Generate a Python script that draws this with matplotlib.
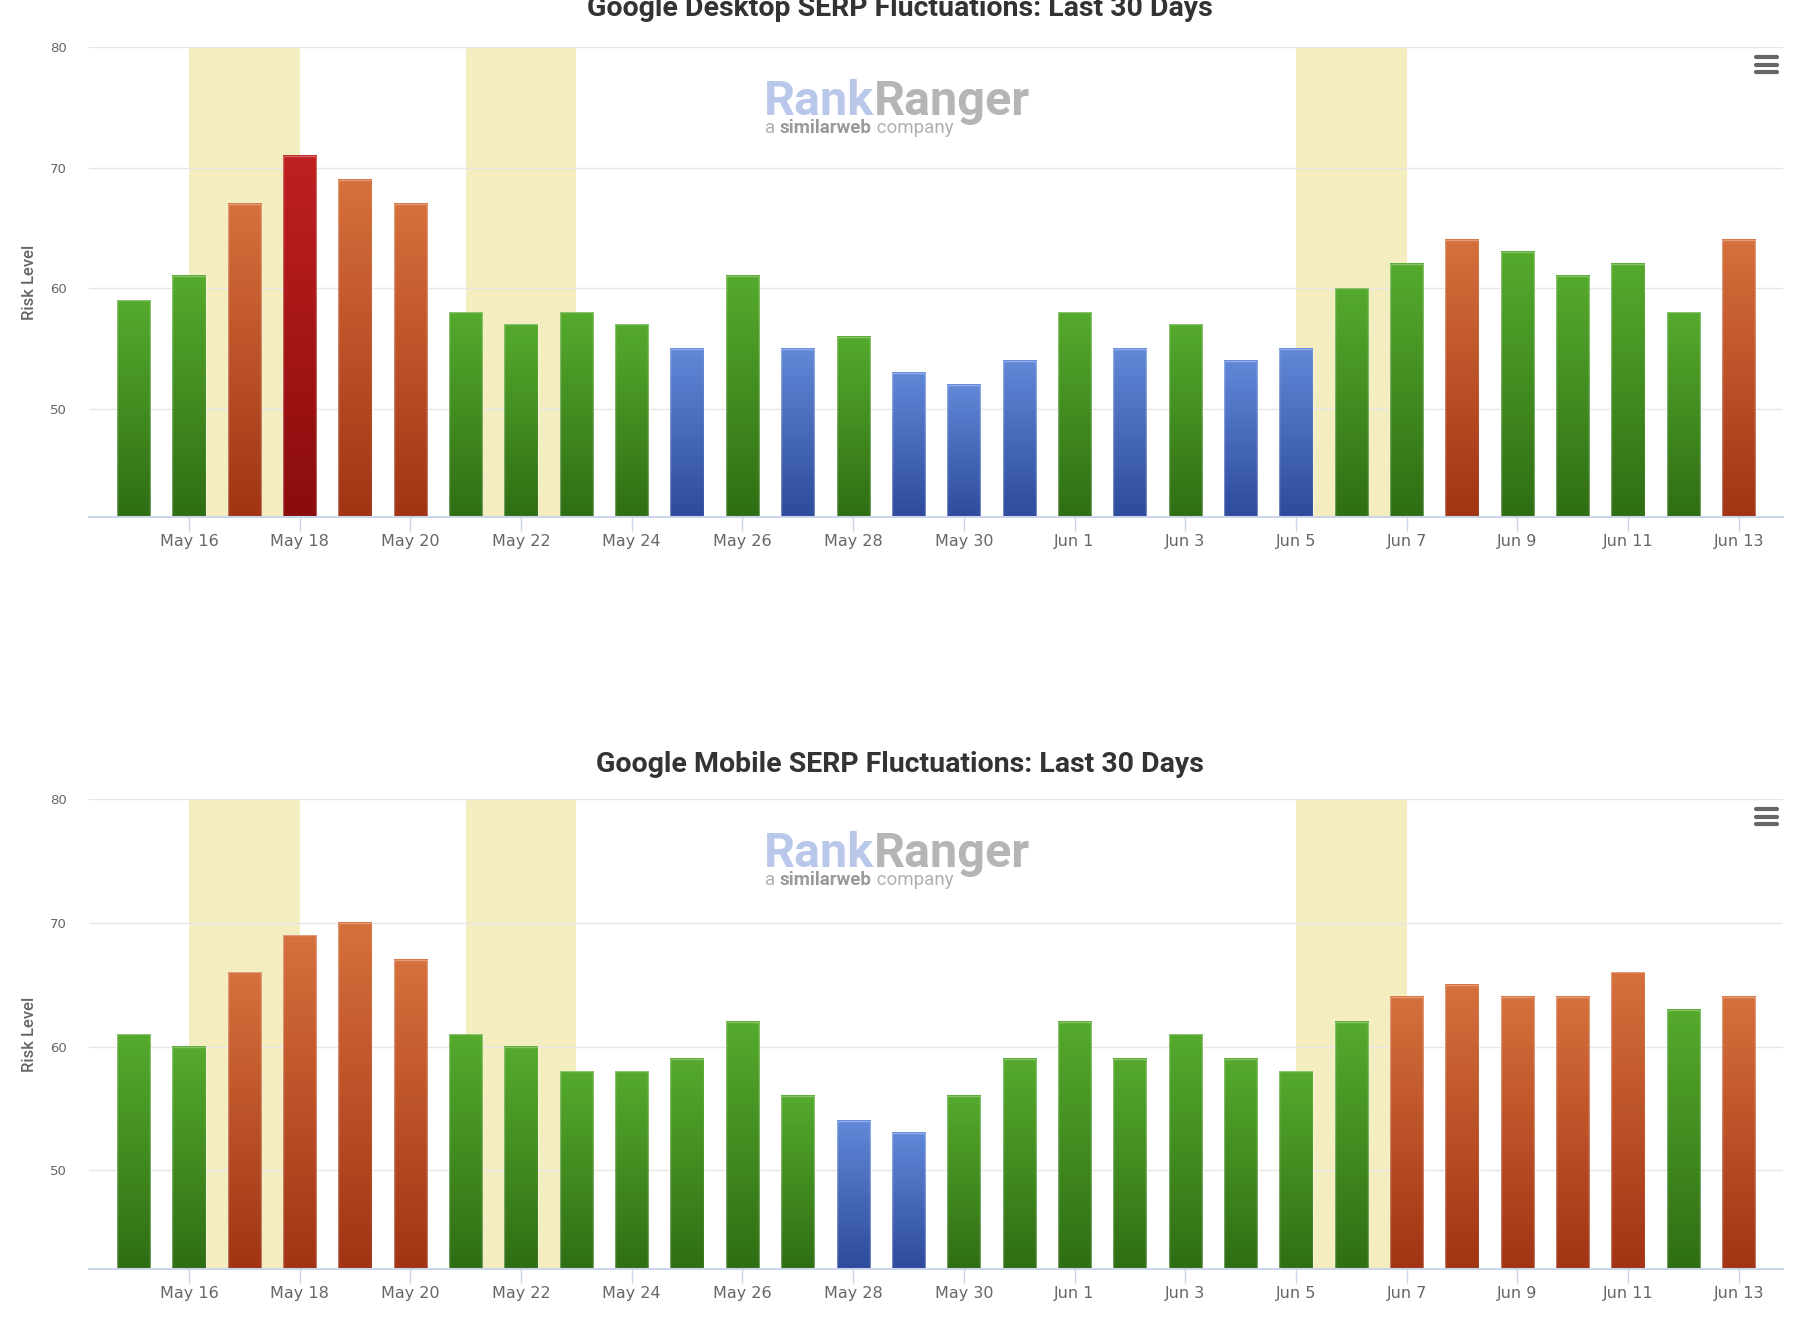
import matplotlib
matplotlib.use('Agg')
import matplotlib.pyplot as plt
import numpy as np
from matplotlib.colors import to_rgb
from matplotlib.lines import Line2D

W, H = 1803, 1343

days = ['May 15', 'May 16', 'May 17', 'May 18', 'May 19', 'May 20', 'May 21',
        'May 22', 'May 23', 'May 24', 'May 25', 'May 26', 'May 27', 'May 28',
        'May 29', 'May 30', 'May 31', 'Jun 1', 'Jun 2', 'Jun 3', 'Jun 4',
        'Jun 5', 'Jun 6', 'Jun 7', 'Jun 8', 'Jun 9', 'Jun 10', 'Jun 11',
        'Jun 12', 'Jun 13']
desktop = [59, 61, 67, 71, 69, 67, 58, 57, 58, 57, 55, 61, 55, 56, 53,
           52, 54, 58, 55, 57, 54, 55, 60, 62, 64, 63, 61, 62, 58, 64]
mobile = [61, 60, 66, 69, 70, 67, 61, 60, 58, 58, 59, 62, 56, 54, 53,
          56, 59, 62, 59, 61, 59, 58, 62, 64, 65, 64, 64, 66, 63, 64]
highlights = [('May 16', 'May 18'), ('May 21', 'May 23'), ('Jun 5', 'Jun 7')]
titles = ['Google Desktop SERP Fluctuations: Last 30 Days',
          'Google Mobile SERP Fluctuations: Last 30 Days']
y_floor = [41, 42]

# top / bottom colour of the bar gradients
grad = {'blue': ('#6288d8', '#2d4a9c'),
        'green': ('#55aa2d', '#2f6e14'),
        'orange': ('#d6703c', '#a03414'),
        'red': ('#c02020', '#8a0c0c')}


def level(v):
    if v <= 55:
        return 'blue'
    if v <= 63:
        return 'green'
    if v <= 70:
        return 'orange'
    return 'red'


def gradient(top, bottom, n=128):
    t = np.linspace(0, 1, n)[:, None]
    a, b = np.array(to_rgb(bottom)), np.array(to_rgb(top))
    return (a + (b - a) * t)[:, None, :]


fig = plt.figure(figsize=(W / 100, H / 100), dpi=100)
fig.patch.set_facecolor('white')

left, right = 89.3, 1783.0
x = np.arange(len(days))
title_base = [16.5, 771.7]

for k, (title, vals, ymin) in enumerate(zip(titles, [desktop, mobile], y_floor)):
    dy = 752 * k
    top, bot = 47.3 + dy, 517.3 + dy
    ax = fig.add_axes([left / W, 1 - bot / H, (right - left) / W, (bot - top) / H])

    for a, b in highlights:
        ax.axvspan(days.index(a), days.index(b), color='#f4edc0', lw=0, zorder=0)

    bars = ax.bar(x, np.array(vals) - ymin, bottom=ymin, width=0.6,
                  facecolor='none', edgecolor=(1, 1, 1, 0.3), lw=1, zorder=3)
    for xi, v in zip(x, vals):
        c_top, c_bot = grad[level(v)]
        ax.imshow(gradient(c_top, c_bot), origin='lower', aspect='auto',
                  extent=[xi - 0.3, xi + 0.3, ymin, v], interpolation='bilinear',
                  zorder=2)
    ax.set_xlim(-0.8, len(days) - 0.2)
    ax.set_ylim(ymin, 80)

    ax.set_yticks([50, 60, 70, 80])
    ax.yaxis.grid(True, color='#e6e6e6', lw=1, zorder=1)
    ax.set_axisbelow(True)
    ax.tick_params(axis='y', length=0, pad=16, labelsize=9.5, labelcolor='#666666')

    ax.set_xticks(x[1::2])
    ax.set_xticklabels(days[1::2])
    ax.tick_params(axis='x', length=10, width=1, color='#ccd6eb', pad=2,
                   labelsize=11.5, labelcolor='#666666')

    for s in ['top', 'right', 'left']:
        ax.spines[s].set_visible(False)
    ax.spines['bottom'].set_color('#ccd6eb')
    ax.spines['bottom'].set_linewidth(1.5)
    ax.spines['bottom'].set_zorder(4)

    fig.text(900 / W, 1 - title_base[k] / H, title, ha='center', va='baseline',
             fontsize=20.5, fontweight='bold', color='#333333',
             family=['Roboto', 'DejaVu Sans'])
    fig.text(29 / W, 1 - (top + bot) / 2 / H, 'Risk Level', rotation=90,
             ha='center', va='center', fontsize=12, fontweight='medium',
             color='#666666', family=['Roboto', 'DejaVu Sans'])

    # watermark
    t1 = fig.text(764 / W, 1 - (115 + dy) / H, 'Rank', ha='left', va='baseline',
                  fontsize=35, fontweight='bold', color='#b9c7ea', family='Roboto')
    ax.annotate('Ranger', xy=(1, 0), xycoords=t1, ha='left', va='bottom',
                fontsize=35, fontweight='bold', color='#b5b5b5', family='Roboto',
                annotation_clip=False)
    s1 = fig.text(765 / W, 1 - (133 + dy) / H, 'a ', ha='left', va='baseline',
                  fontsize=13.5, color='#b0b0b0', family='Roboto')
    s2 = ax.annotate('similarweb', xy=(1, 0), xycoords=s1, ha='left', va='bottom',
                     fontsize=13.5, fontweight='bold', color='#9a9a9a',
                     family='Roboto', annotation_clip=False)
    ax.annotate(' company', xy=(1, 0), xycoords=s2, ha='left', va='bottom',
                fontsize=13.5, color='#b0b0b0', family='Roboto',
                annotation_clip=False)

    # menu icon
    for yy in [57.3, 64.7, 72.3]:
        fig.add_artist(Line2D([1756 / W, 1777 / W], [1 - (yy + dy) / H] * 2,
                              color='#666666', lw=3, solid_capstyle='round'))

fig.savefig('out.png', dpi=100, facecolor='white')
